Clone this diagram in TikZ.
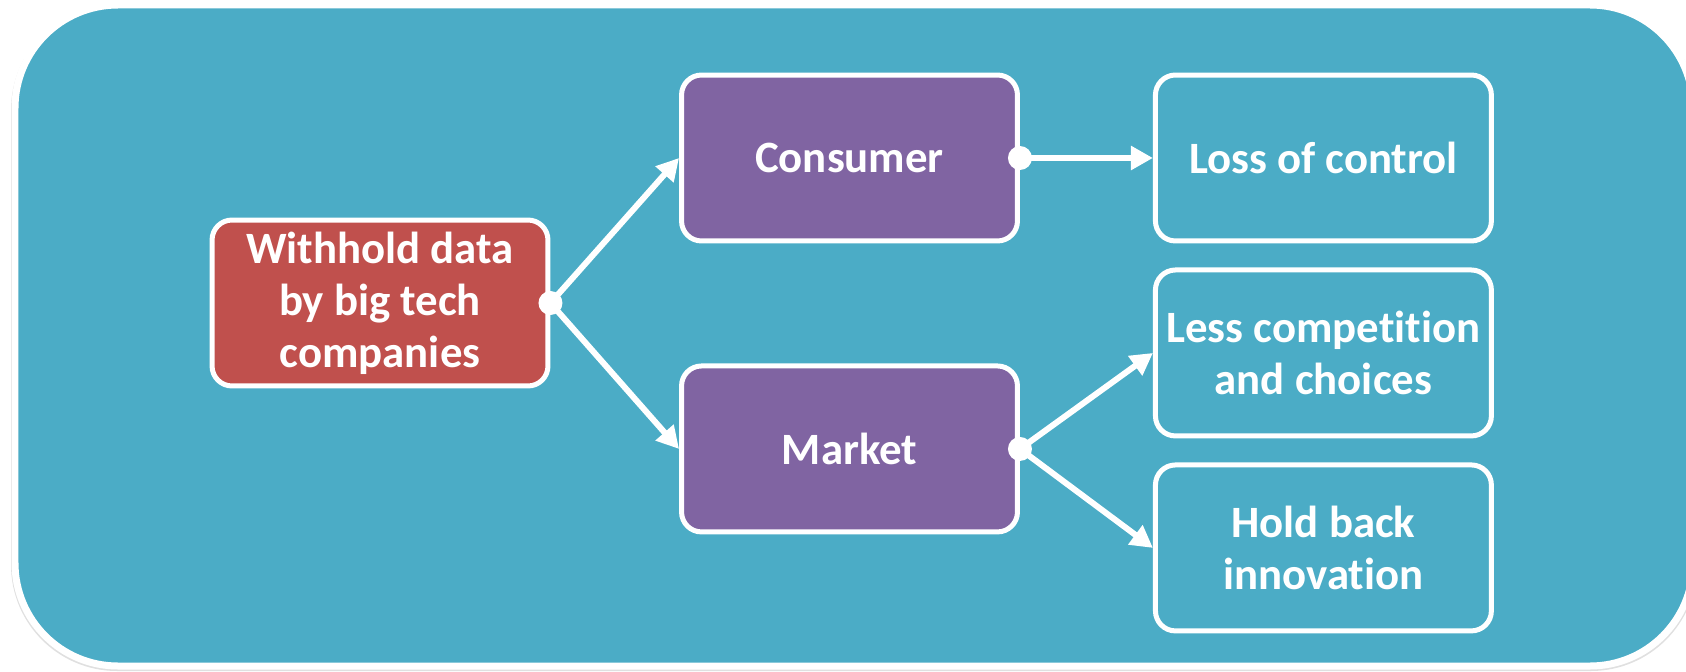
\documentclass[tikz,border=0pt]{standalone}
\usepackage{fontspec}
\setmainfont{Carlito}[Ligatures=NoCommon]
\usetikzlibrary{positioning,arrows.meta}
\definecolor{bgteal}{HTML}{4BACC6}
\definecolor{boxred}{HTML}{C0504D}
\definecolor{boxpurple}{HTML}{8064A2}

\begin{document}
\begin{tikzpicture}[x=0.02cm,y=-0.02cm,
  box/.style={draw=white,line width=0.1cm,rounded corners=0.4cm,minimum width=6.72cm,minimum height=3.32cm,
    align=center,text=white,font=\bfseries\fontsize{25.5}{29.6}\selectfont},
  dot/.style={circle,fill=white,inner sep=0pt,minimum size=0.48cm},
  link/.style={white,line width=0.12cm,-{Triangle[length=0.44cm,width=0.46cm]}}]
  \useasboundingbox (0,0) rectangle (1686,672);
  \fill[black,opacity=0.12,rounded corners=2.12cm] (11,4) rectangle (1697,671);
  \draw[white,line width=0.14cm,fill=bgteal,rounded corners=2.06cm] (15,5) rectangle (1693,666);

  \node[box,fill=boxred] (wd) at (380,303) {Withhold data\\by big tech\\companies};
  \node[box,fill=boxpurple] (con) at (849.5,158) {Consumer};
  \node[box,fill=boxpurple,below=2.4cm of con] (mkt) {Market};
  \node[box,fill=bgteal,right=2.66cm of con] (loss) {Loss of control};
  \node[box,fill=bgteal,below=0.48cm of loss] (comp) {Less competition\\and choices};
  \node[box,fill=bgteal,below=0.48cm of comp] (inno) {Hold back\\innovation};

  \draw[link] (wd.east) -- (con.west);
  \draw[link] (wd.east) -- (mkt.west);
  \draw[link] (con.east) -- (loss.west);
  \draw[link] (mkt.east) -- (comp.west);
  \draw[link] (mkt.east) -- (inno.west);

  \node[dot] (wdot) at (wd.east) {};
  \node[dot] (cdot) at (con.east) {};
  \node[dot] (mdot) at (mkt.east) {};
\end{tikzpicture}
\end{document}
